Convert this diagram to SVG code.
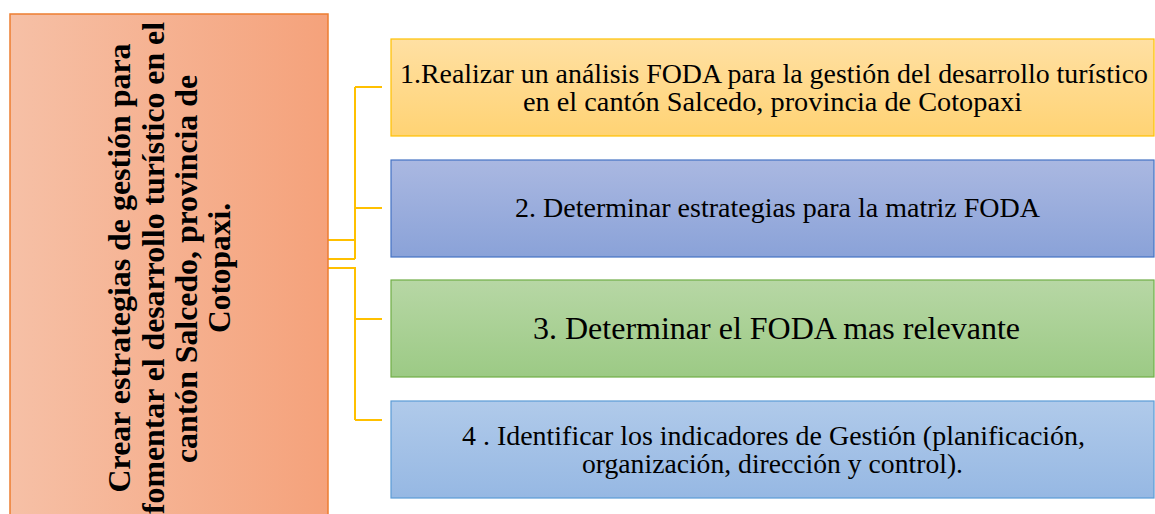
<svg xmlns="http://www.w3.org/2000/svg" width="1155" height="514" viewBox="0 0 1155 514">
<defs>
<linearGradient id="gMain" x1="0" y1="0" x2="1" y2="0"><stop offset="0" stop-color="#F6C0A6"/><stop offset="1" stop-color="#F5A27B"/></linearGradient>
<linearGradient id="g1" x1="0" y1="0" x2="0" y2="1"><stop offset="0" stop-color="#FFE0A3"/><stop offset="1" stop-color="#FFD374"/></linearGradient>
<linearGradient id="g2" x1="0" y1="0" x2="0" y2="1"><stop offset="0" stop-color="#AAB8E1"/><stop offset="1" stop-color="#8AA2D8"/></linearGradient>
<linearGradient id="g3" x1="0" y1="0" x2="0" y2="1"><stop offset="0" stop-color="#B7D7A5"/><stop offset="1" stop-color="#9CCA85"/></linearGradient>
<linearGradient id="g4" x1="0" y1="0" x2="0" y2="1"><stop offset="0" stop-color="#B0CAEA"/><stop offset="1" stop-color="#96B8E3"/></linearGradient>
</defs>
<style>
.t{font-family:"Liberation Serif","Times New Roman",serif;fill:#000;text-anchor:middle}
.b{font-weight:bold}
.c{fill:none;stroke:#FFC000;stroke-width:2}
</style>
<rect width="1155" height="514" fill="#fff"/>
<g id="connectors">
<path class="c" d="M328,240 H355 M328,259 H355 M355,87 V259 M355,87 H382 M355,208 H382 M328,268 H355 V420 M355,319 H382 M355,420 H382"/>
</g>
<g id="main">
<rect x="10" y="14" width="318" height="510" fill="url(#gMain)" stroke="#ED7D31" stroke-width="1.5"/>
<text class="t b" font-size="32" transform="translate(130,268) rotate(-90)" x="0" y="0" textLength="449" lengthAdjust="spacingAndGlyphs">Crear estrategias de gestión para</text>
<text class="t b" font-size="32" transform="translate(164,268) rotate(-90)" x="0" y="0" textLength="492" lengthAdjust="spacingAndGlyphs">fomentar el desarrollo turístico en el</text>
<text class="t b" font-size="32" transform="translate(197,269) rotate(-90)" x="0" y="0" textLength="388" lengthAdjust="spacingAndGlyphs">cantón Salcedo, provincia de</text>
<text class="t b" font-size="32" transform="translate(230,268) rotate(-90)" x="0" y="0" textLength="130" lengthAdjust="spacingAndGlyphs">Cotopaxi.</text>
</g>
<g id="n1">
<rect x="391" y="39" width="763" height="97" fill="url(#g1)" stroke="#FFC000" stroke-width="1.2"/>
<text class="t" font-size="27" x="774" y="83" textLength="748" lengthAdjust="spacingAndGlyphs">1.Realizar un análisis FODA para la gestión del desarrollo turístico</text>
<text class="t" font-size="27" x="772.5" y="111" textLength="499" lengthAdjust="spacingAndGlyphs">en el cantón Salcedo, provincia de Cotopaxi</text>
</g>
<g id="n2">
<rect x="391" y="160" width="763" height="97" fill="url(#g2)" stroke="#4472C4" stroke-width="1.2"/>
<text class="t" font-size="27" x="777.5" y="217" textLength="525" lengthAdjust="spacingAndGlyphs">2. Determinar estrategias para la matriz FODA</text>
</g>
<g id="n3">
<rect x="391" y="280" width="763" height="97" fill="url(#g3)" stroke="#70AD47" stroke-width="1.2"/>
<text class="t" font-size="32" x="776.5" y="339" textLength="487" lengthAdjust="spacingAndGlyphs">3. Determinar el FODA mas relevante</text>
</g>
<g id="n4">
<rect x="391" y="401" width="763" height="97" fill="url(#g4)" stroke="#5B9BD5" stroke-width="1.2"/>
<text class="t" font-size="27" x="773.5" y="445" textLength="623" lengthAdjust="spacingAndGlyphs">4 . Identificar los indicadores de Gestión (planificación,</text>
<text class="t" font-size="27" x="772.5" y="473" textLength="381" lengthAdjust="spacingAndGlyphs">organización, dirección y control).</text>
</g>
</svg>
